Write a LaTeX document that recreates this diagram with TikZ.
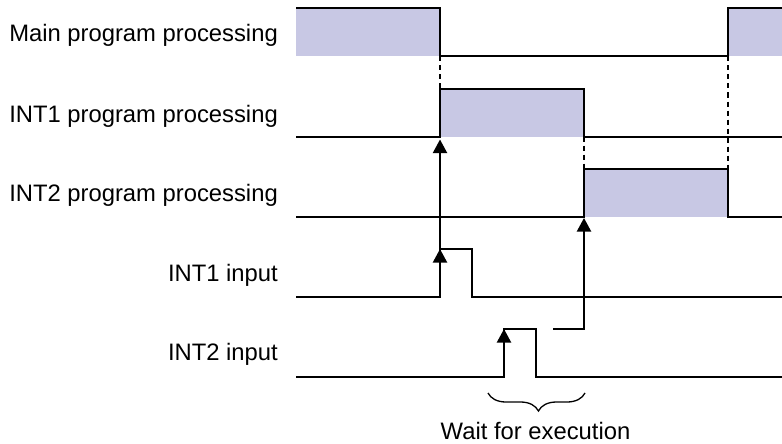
\documentclass[tikz,border=0pt]{standalone}
\usepackage{fontspec}
\setmainfont{Liberation Sans}
\usetikzlibrary{arrows.meta,decorations.pathreplacing}
\definecolor{busy}{RGB}{200,200,228}
\begin{document}
\begin{tikzpicture}[x=1pt,y=-1pt,
  lbl/.style={anchor=base east,inner sep=0pt,font=\fontsize{23.8}{28}\selectfont},
  sig/.style={line width=2pt,line join=miter},
  dashlink/.style={line width=2pt,dash pattern=on 5pt off 4pt},
  trig/.style={line width=2pt,-{Triangle[length=13.5pt,width=14pt]}},
  busybox/.style={fill=busy,draw=none}]
\useasboundingbox (0,0) rectangle (782,444);
% labels
\node[lbl] (lmain) at (278,41.7) {Main program processing};
\node[lbl] (lint1p) at (278,122) {INT1 program processing};
\node[lbl] (lint2p) at (278,201.7) {INT2 program processing};
\node[lbl] (lint1i) at (278,281) {INT1 input};
\node[lbl] (lint2i) at (278,360.7) {INT2 input};
% shaded busy regions
\fill[busybox] (296,8) rectangle (440,56.5);
\fill[busybox] (728,8) rectangle (782,56.5);
\fill[busybox] (440,89) rectangle (584,136.5);
\fill[busybox] (584,169) rectangle (728,216.5);
% key coordinates
\coordinate (m1) at (440,56.5);
\coordinate (m2) at (728,56.5);
\coordinate (a1) at (440,89);
\coordinate (a2) at (584,136.5);
\coordinate (b1) at (584,169);
\coordinate (b2) at (728,169);
% main program line
\draw[sig] (296,8) -- (440,8) -- (m1) -- (m2) -- (728,8) -- (782,8);
% INT1 program line
\draw[sig] (296,136.5) -- (440,136.5) -- (a1) -- (584,89) -- (a2) -- (782,136.5);
% INT2 program line
\draw[sig] (296,216.5) -- (584,216.5) -- (b1) -- (b2) -- (728,216.5) -- (782,216.5);
% dashed links
\draw[dashlink] (m1) -- (a1);
\draw[dashlink] (a2) -- (b1);
\draw[dashlink] (m2) -- (b2);
% INT1 input
\coordinate (i1r) at (440,249);
\draw[sig] (296,296.5) -- (440,296.5) -- (i1r) -- (472,249) -- (472,296.5) -- (782,296.5);
\draw[trig] (440,296.5) -- (i1r);
\draw[trig] (i1r) -- (440,139.5);
% INT2 input
\coordinate (i2r) at (504,329);
\draw[sig] (296,376.5) -- (504,376.5) -- (i2r) -- (536,329) -- (536,376.5) -- (782,376.5);
\draw[trig] (504,376.5) -- (i2r);
\coordinate (w0) at (553,329);
\draw[trig,line join=miter] (w0) -- (584,329) -- (584,218);
% brace and caption
\draw[line width=1.3pt,decorate,decoration={brace,mirror,amplitude=18pt,aspect=0.52}] (488,393) -- (585,393) coordinate (bend);
\node[anchor=base,inner sep=0pt,font=\fontsize{23.8}{28}\selectfont] (wait) at (535.5,439.3) {Wait for execution};
\end{tikzpicture}
\end{document}
